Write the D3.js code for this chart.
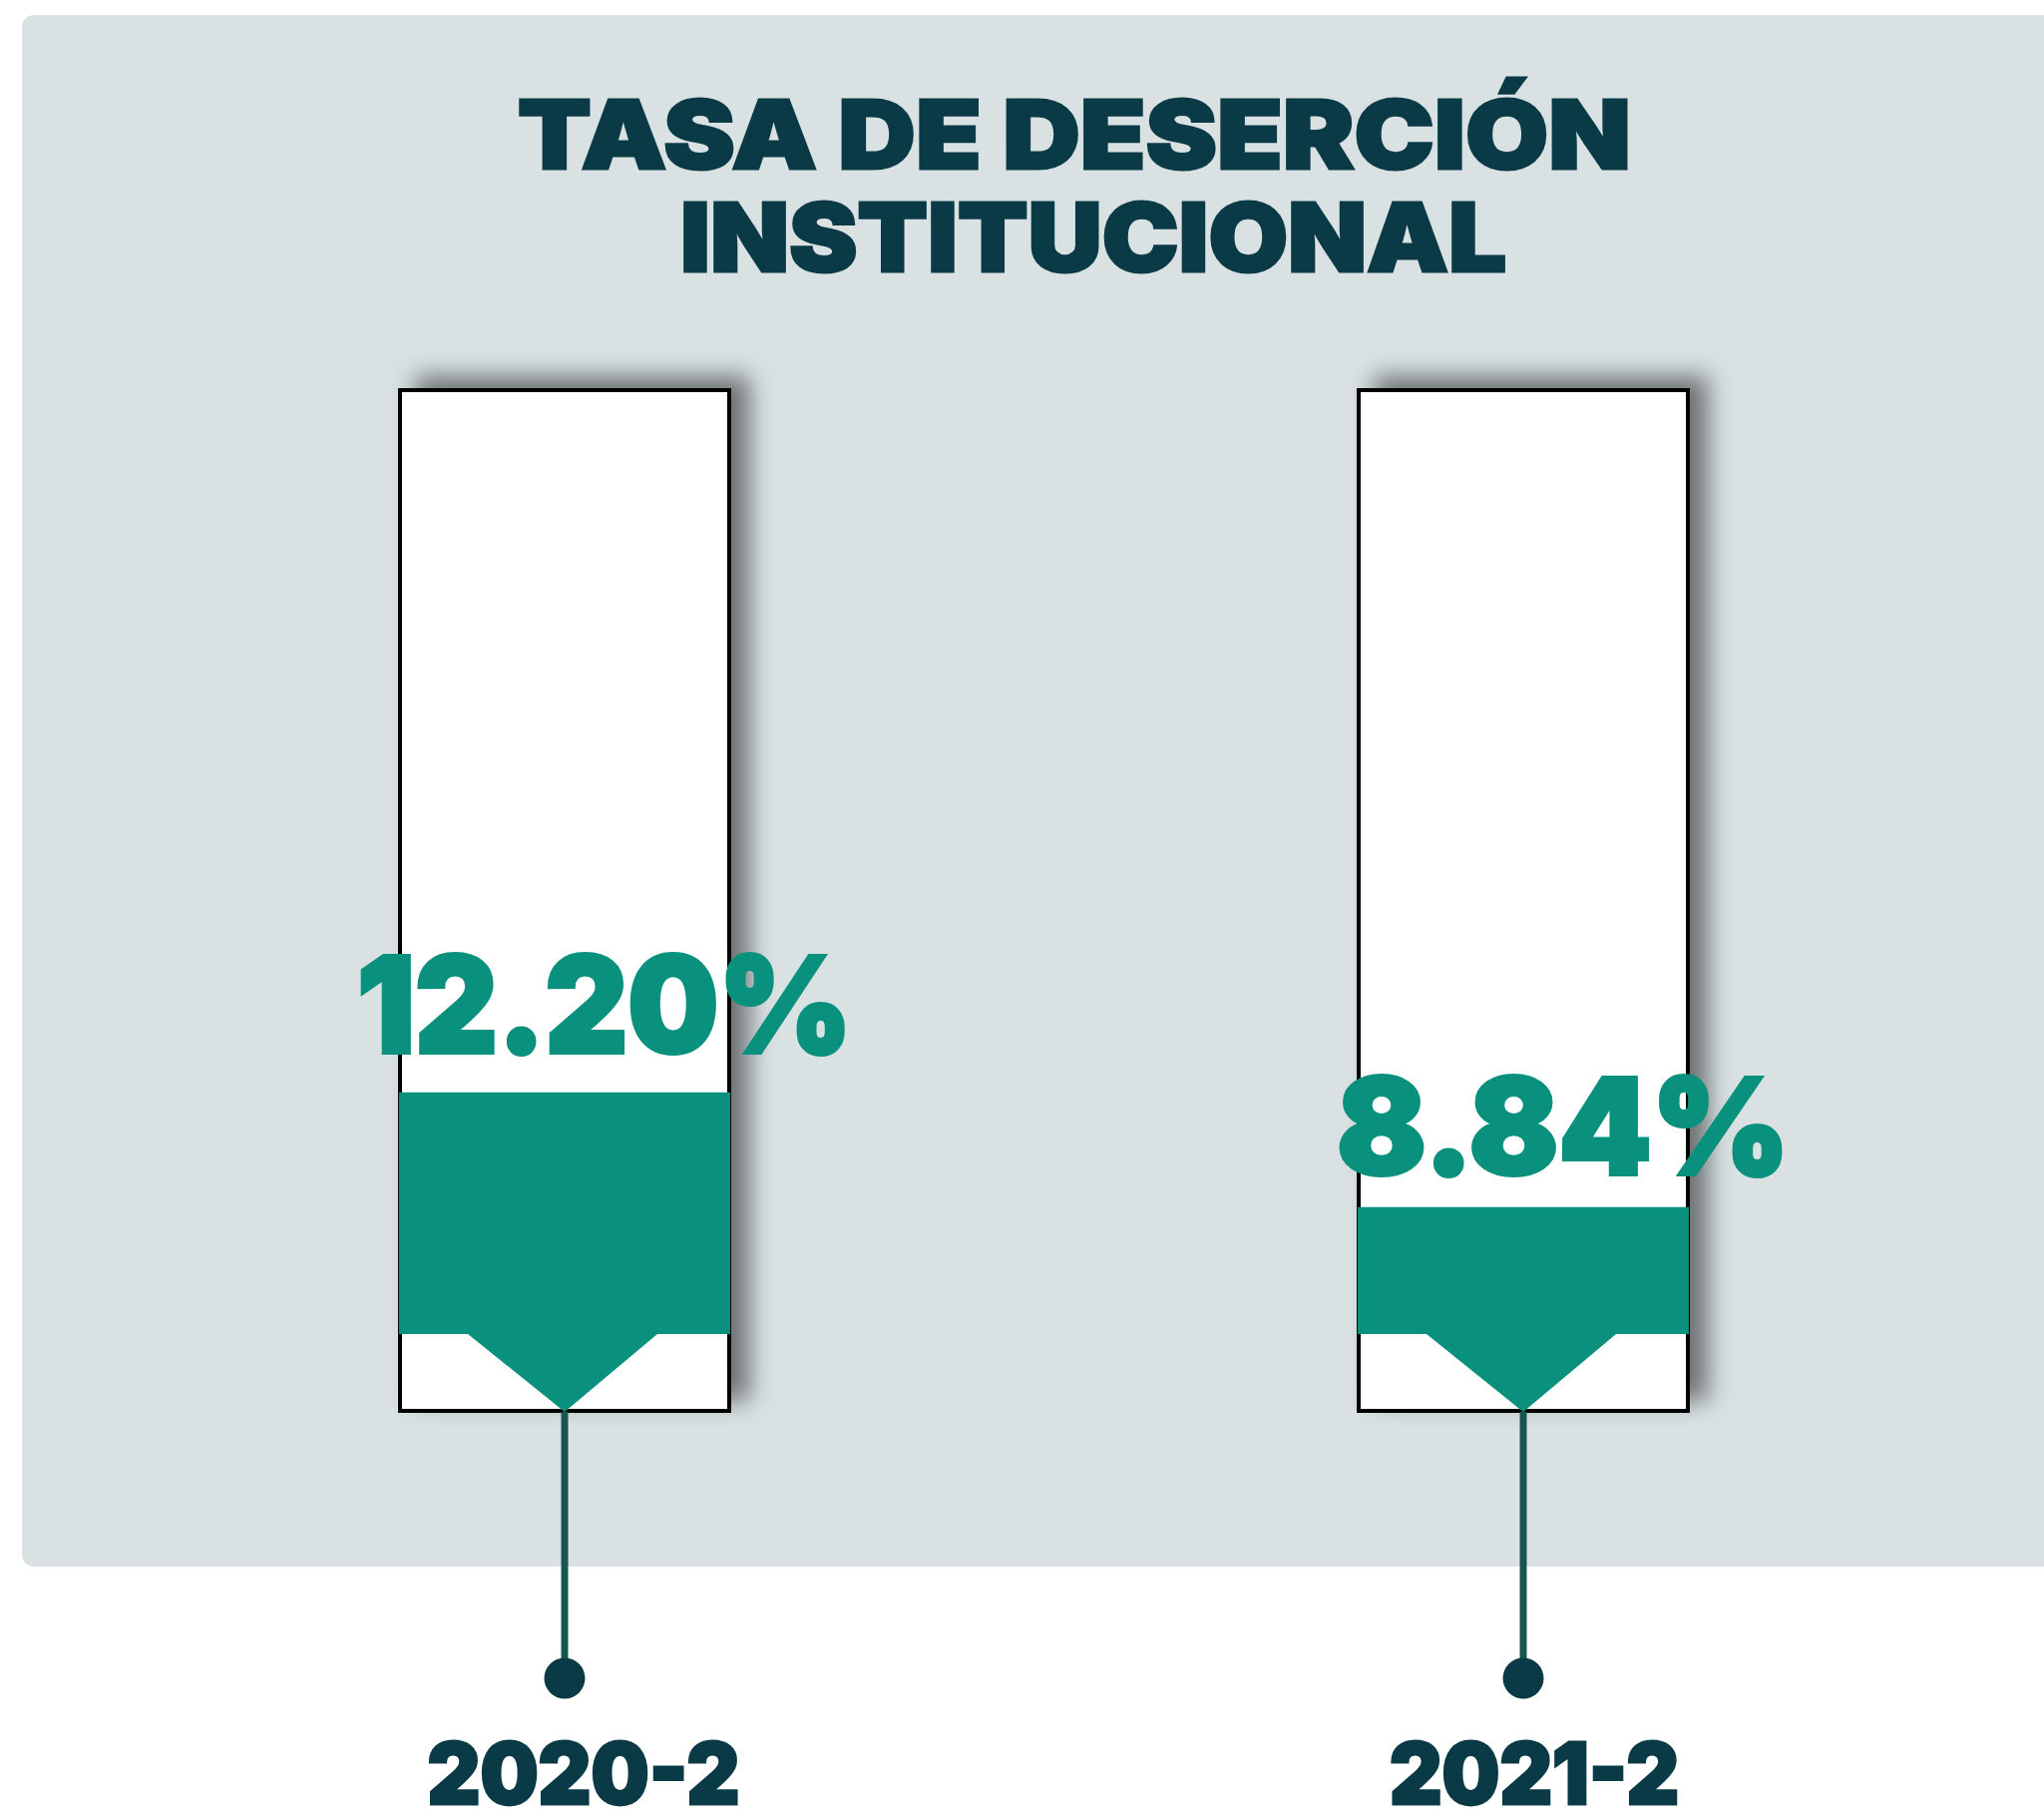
<!DOCTYPE html>
<html>
<head>
<meta charset="utf-8">
<script src="https://cdn.jsdelivr.net/npm/d3@7"></script>
<style>
  html, body { margin: 0; padding: 0; background: #ffffff; }
  svg { display: block; }
</style>
</head>
<body>
<svg id="chart" width="2049" height="1813"></svg>
<script>
// ---- data ----
const titleLines = ["TASA DE DESERCIÓN", "INSTITUCIONAL"];
const categories = ["2020-2", "2021-2"];
const values = [12.20, 8.84];
const valueLabels = ["12.20%", "8.84%"];

// ---- layout / style ----
const panelColor = "#d9e1e3";
const teal = "#09917d";
const dark = "#0b3a47";
const stemColor = "#17564f";
const font = "Inter, 'Open Sans', sans-serif";

const svg = d3.select("#chart");

const defs = svg.append("defs");
const f = defs.append("filter").attr("id", "shadow")
  .attr("x", "-30%").attr("y", "-20%").attr("width", "170%").attr("height", "140%");
f.append("feDropShadow")
  .attr("dx", 18).attr("dy", -12).attr("stdDeviation", 12)
  .attr("flood-color", "#000").attr("flood-opacity", 0.5);

// panel
svg.append("rect")
  .attr("x", 22).attr("y", 15).attr("width", 2100).attr("height", 1555)
  .attr("rx", 12).attr("fill", panelColor);

function heavy(sel, color, sw) {
  return sel.attr("font-family", font).attr("font-weight", 900)
    .attr("fill", color).attr("stroke", color).attr("stroke-width", sw)
    .attr("stroke-linejoin", "miter").attr("paint-order", "stroke");
}

// title
const titleSpecs = [
  {x: 519, y: 169, len: 1116},
  {x: 682, y: 272, len: 828}
];
heavy(svg.selectAll("text.title").data(titleLines).join("text")
  .attr("class", "title")
  .attr("x", (d, i) => titleSpecs[i].x)
  .attr("y", (d, i) => titleSpecs[i].y)
  .attr("textLength", (d, i) => titleSpecs[i].len)
  .attr("lengthAdjust", "spacingAndGlyphs")
  .attr("font-size", 95), dark, 3)
  .text(d => d);

// scales
const x = d3.scalePoint().domain(categories).range([566, 1527]);
const y = d3.scaleLinear().domain([0, 10]).range([1512, 1170]);

const boxTop = 391, boxBottom = 1414, halfW = 165;
const shoulderY = 1337, tipY = 1415;

const g = svg.selectAll("g.item").data(categories.map((c, i) => ({c, v: values[i], lab: valueLabels[i], i})))
  .join("g").attr("class", "item");

// white box with shadow
g.append("rect")
  .attr("x", d => x(d.c) - halfW).attr("y", boxTop)
  .attr("width", halfW * 2).attr("height", boxBottom - boxTop)
  .attr("fill", "#fff").attr("stroke", "#000").attr("stroke-width", 4)
  .attr("filter", "url(#shadow)");

// teal fill with arrow bottom
g.append("path")
  .attr("fill", teal)
  .attr("d", d => {
    const cx = x(d.c);
    const l = cx - halfW - 1, r = cx + halfW + 1;
    return `M${l},${y(d.v)}L${r},${y(d.v)}L${r},${shoulderY}L${cx + 93},${shoulderY}L${cx},${tipY}L${cx - 97},${shoulderY}L${l},${shoulderY}Z`;
  });

// stem
g.append("line")
  .attr("x1", d => x(d.c)).attr("x2", d => x(d.c))
  .attr("y1", tipY).attr("y2", 1668)
  .attr("stroke", stemColor).attr("stroke-width", 7);

g.append("circle")
  .attr("cx", d => x(d.c)).attr("cy", 1682).attr("r", 20.5)
  .attr("fill", dark);

// value labels
const valueLens = [496, 454];
const valueOff = [-40, -33];
heavy(g.append("text")
  .attr("x", d => x(d.c) + 40)
  .attr("y", d => y(d.v) + valueOff[d.i])
  .attr("text-anchor", "middle")
  .attr("textLength", d => valueLens[d.i])
  .attr("lengthAdjust", "spacingAndGlyphs")
  .attr("font-size", 134), teal, 4)
  .text(d => d.lab);

// category labels
const catLens = [313, 290];
const catOff = [19, 11];
heavy(g.append("text")
  .attr("x", d => x(d.c) + catOff[d.i])
  .attr("y", 1808)
  .attr("text-anchor", "middle")
  .attr("textLength", d => catLens[d.i])
  .attr("lengthAdjust", "spacingAndGlyphs")
  .attr("font-size", 85), dark, 3)
  .text(d => d.c);
</script>
</body>
</html>
